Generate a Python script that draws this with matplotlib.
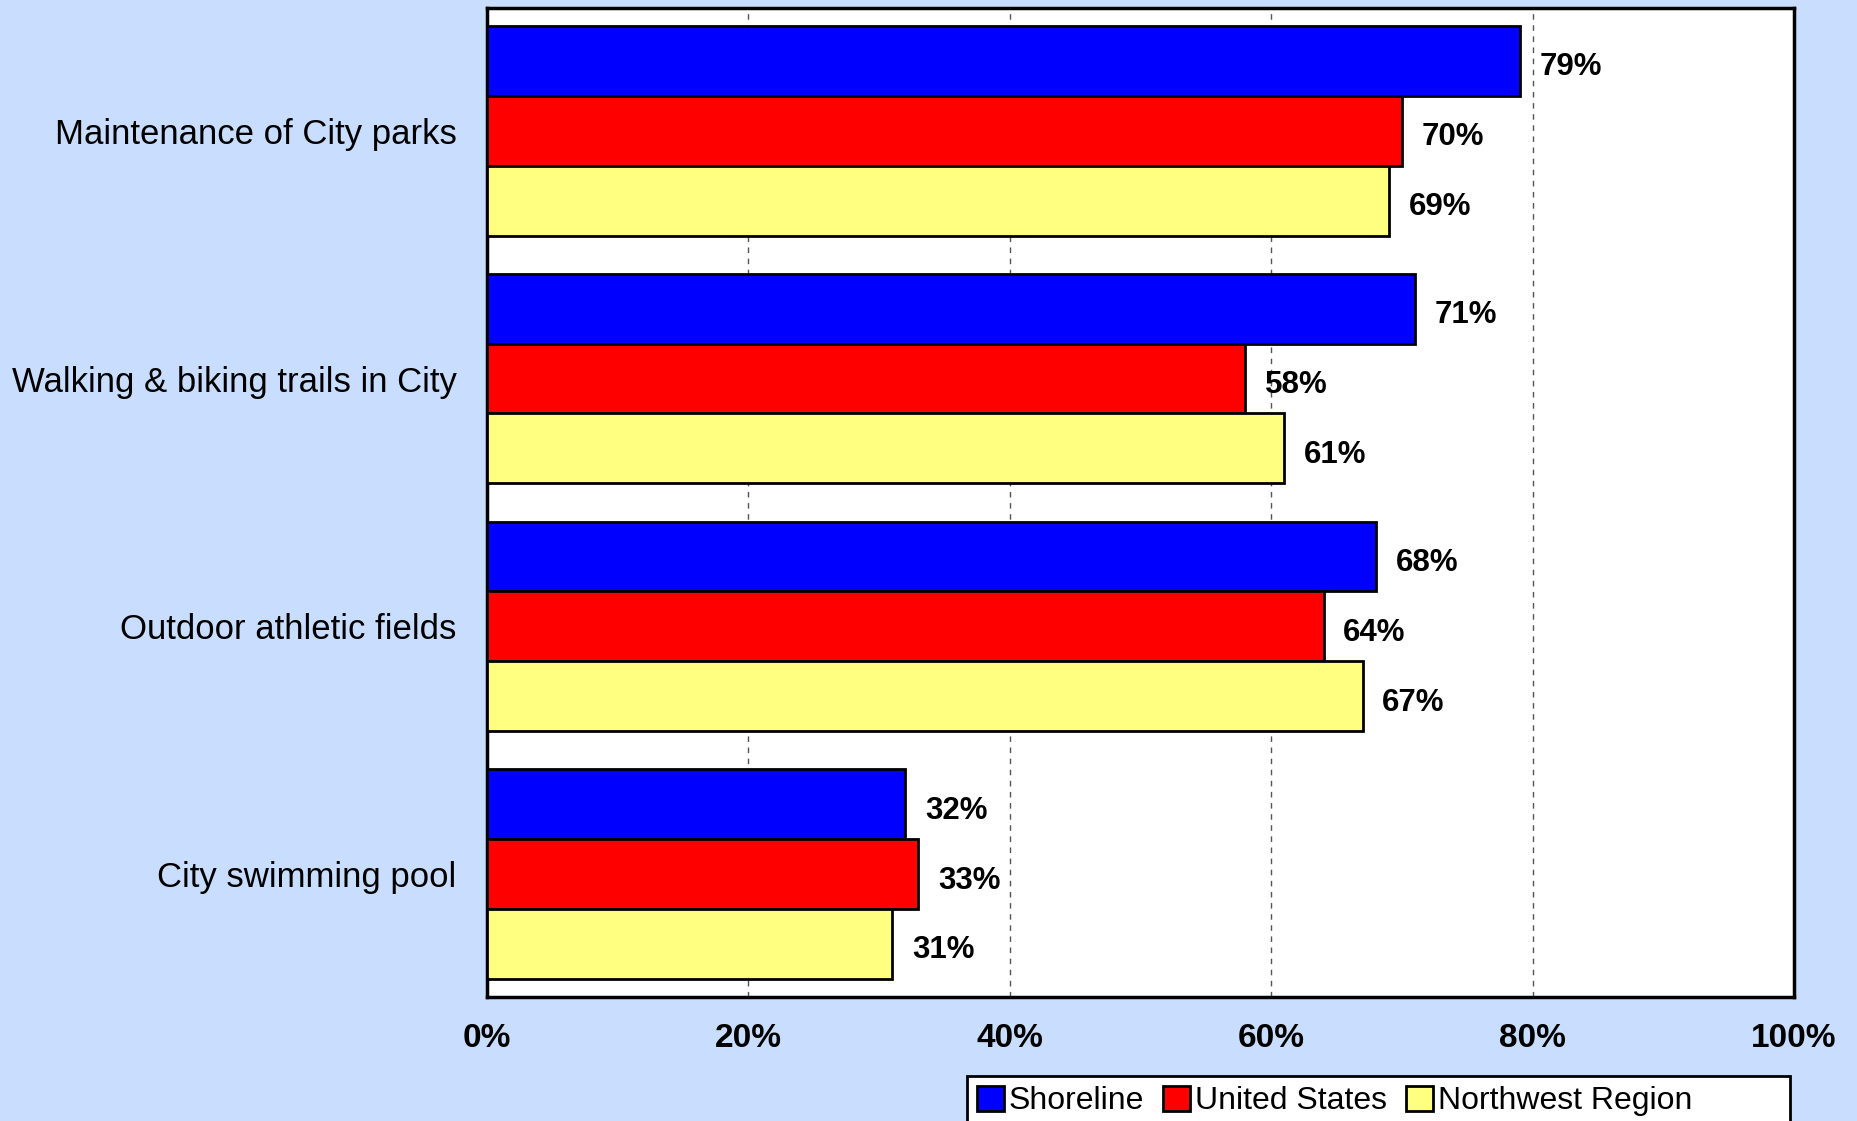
import numpy as np
import matplotlib.pyplot as plt
from matplotlib.patches import Rectangle

# data
categories = ['Maintenance of City parks', 'Walking & biking trails in City',
              'Outdoor athletic fields', 'City swimming pool']
series = ['Shoreline', 'United States', 'Northwest Region']
shoreline = [79, 71, 68, 32]
united_states = [70, 58, 64, 33]
northwest = [69, 61, 67, 31]
colors = ['#0000FF', '#FF0000', '#FFFF80']

plt.rcParams['font.family'] = ['Liberation Sans', 'DejaVu Sans']

fig = plt.figure(figsize=(18.58, 11.21), dpi=100)
fig.patch.set_facecolor('#C9DDFE')
ax = fig.add_axes([0.2621, 0.1106, 0.7035, 0.8823])
ax.set_facecolor('white')

y = np.arange(len(categories))
h = 0.282
for k, (name, vals) in enumerate(zip(series, [shoreline, united_states, northwest])):
    pos = y + (k - 1) * h
    ax.barh(pos, vals, height=h, color=colors[k], edgecolor='black',
            linewidth=2, label=name, zorder=3)
    for p, v in zip(pos, vals):
        ax.text(v + 1.5, p + 0.025, f'{v}%', va='center', ha='left',
                fontsize=22.5, fontweight='bold', zorder=4)

ax.set_xlim(0, 100)
ax.set_ylim(3.495, -0.495)
ax.set_xticks([0, 20, 40, 60, 80, 100])
ax.set_xticklabels(['0%', '20%', '40%', '60%', '80%', '100%'],
                   fontsize=24, fontweight='bold')
ax.set_yticks(y)
ax.set_yticklabels(categories, fontsize=25)
ax.tick_params(axis='x', length=0, pad=19)
ax.tick_params(axis='y', length=0, pad=22)
ax.grid(axis='x', linestyle=(0, (4, 4)), color='#555555', linewidth=1, zorder=0)
for s in ax.spines.values():
    s.set_linewidth(2.5)
    s.set_color('black')

# legend box is wider than its entries, so draw the frame separately
fig.patches.append(Rectangle((0.5205, -0.02), 0.4429, 0.0601, transform=fig.transFigure,
                             facecolor='white', edgecolor='black', linewidth=2,
                             zorder=1))
leg = fig.legend(loc='upper left', bbox_to_anchor=(0.5205, 0.0401), ncol=3,
                 fontsize=23, frameon=False,
                 handlelength=0.85, handleheight=0.85, handletextpad=0.15,
                 columnspacing=0.6, borderpad=0.3, borderaxespad=0)
leg.set_zorder(2)

fig.savefig('out.png', dpi=100, facecolor=fig.get_facecolor())
